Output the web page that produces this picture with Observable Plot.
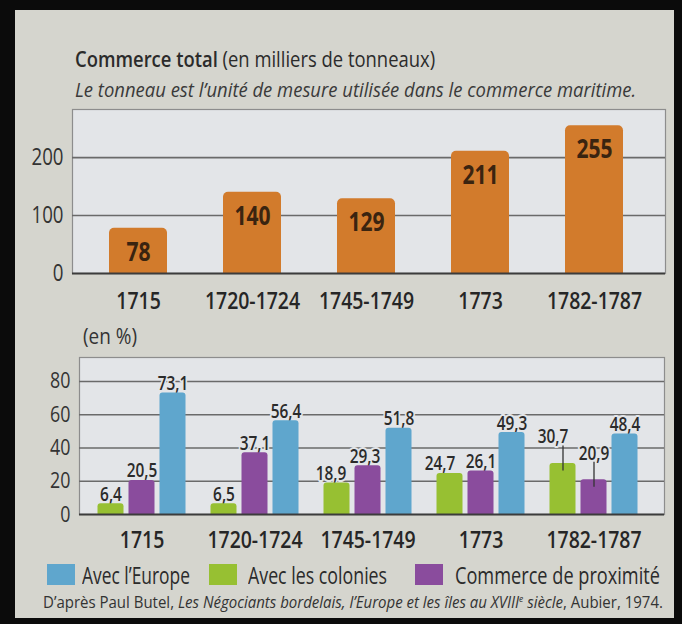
<!DOCTYPE html>
<html><head><meta charset="utf-8">
<script src="https://cdn.jsdelivr.net/npm/d3@7"></script>
<script src="https://cdn.jsdelivr.net/npm/@observablehq/plot@0.6"></script>
<style>
body{margin:0;width:682px;height:624px;background:#0b0b0b;position:relative;overflow:hidden;font-family:'Open Sans','Noto Sans',sans-serif;}
#page{position:absolute;left:15px;top:10px;width:659px;height:608px;background:#d5d5ce;}
.abs{position:absolute;white-space:nowrap;color:#2b2b2b;line-height:1;transform-origin:0 0;}
.chart{position:absolute;left:0;}
.sw{position:absolute;width:28px;height:21px;}
</style></head><body>
<div id="page"></div>
<div class="abs fit" data-w="360" style="left:75px;top:49px;font-size:21px;"><b style="font-weight:600">Commerce total</b> (en milliers de tonneaux)</div>
<div class="abs fit" data-w="561" style="left:75px;top:80px;font-size:20px;font-style:italic;color:#3a3a3a;">Le tonneau est l’unité de mesure utilisée dans le commerce maritime.</div>
<div id="top" class="chart" style="top:100px;"></div>
<div class="abs fit" data-w="54" style="left:83px;top:326px;font-size:21px;color:#333;">(en %)</div>
<div id="bottom" class="chart" style="top:350px;"></div>
<div id="legend"></div>
<div class="abs fit" data-w="620" style="left:43px;top:594px;font-size:16px;color:#333;">D’après Paul Butel, <i>Les Négociants bordelais, l’Europe et les îles au XVIII<sup style="font-size:9px">e</sup> siècle</i>, Aubier, 1974.</div>
<script>
const periods = ["1715", "1720-1724", "1745-1749", "1773", "1782-1787"];
const totals = [78, 140, 129, 211, 255];
const totalTicks = [0, 100, 200];
const colonies = [6.4, 6.5, 18.9, 24.7, 30.7];
const proximite = [20.5, 37.1, 29.3, 26.1, 20.9];
const europe = [73.1, 56.4, 51.8, 49.3, 48.4];
const pctTicks = [0, 20, 40, 60, 80];
const seriesNames = ["Avec l’Europe", "Avec les colonies", "Commerce de proximité"];
const seriesColors = ["#5fa6cd", "#97c032", "#8a4c9d"];

const FONT = "'Open Sans','Noto Sans',sans-serif";
const PANEL = "#e3e5e8";
const K = 0.81; // horizontal condensing of the svg texts
const fmt = v => String(v).replace(".", ",");

function condense(svg) {
  svg.querySelectorAll("text").forEach(t => {
    const w = t.getComputedTextLength();
    if (w > 0) {
      t.setAttribute("textLength", (w * K).toFixed(1));
      t.setAttribute("lengthAdjust", "spacingAndGlyphs");
    }
  });
}

// ---- top chart
const totalData = periods.map((p, i) => ({period: p, value: totals[i]}));
const topChart = Plot.plot({
  width: 682, height: 220,
  marginLeft: 72, marginRight: 17, marginTop: 9, marginBottom: 47,
  style: {background: "transparent", fontFamily: FONT, overflow: "visible"},
  x: {domain: periods, range: [80, 652], padding: 0, axis: null},
  y: {domain: [0, 283], axis: null},
  marks: [
    Plot.frame({fill: PANEL, stroke: "#8d8d8d", strokeWidth: 1.2}),
    Plot.ruleY(totalTicks.filter(d => d > 0), {stroke: "#6a6a6a", strokeWidth: 1.6}),
    Plot.barY(totalData, {x: "period", y: "value", fill: "#d27b2c", insetLeft: 28, insetRight: 28, ry1: 5, rx1y1: 5, rx2y1: 5}),
    Plot.ruleY([0], {stroke: "#3c3c3c", strokeWidth: 2}),
    Plot.text(totalData, {x: "period", y: "value", text: d => fmt(d.value), lineAnchor: "top", dy: 14, fontSize: 26, fontWeight: "bold", fill: "#3a2410"}),
    Plot.axisY(totalTicks, {label: null, tickSize: 0, tickPadding: 9, fontSize: 23, fill: "#333"}),
    Plot.axisX({label: null, tickSize: 0, tickPadding: 18, fontSize: 24, fontWeight: 600, fill: "#262626"})
  ]
});
document.getElementById("top").appendChild(topChart);
condense(topChart);

// ---- bottom chart
const slots = [
  {name: seriesNames[1], values: colonies, color: seriesColors[1], slot: -1},
  {name: seriesNames[2], values: proximite, color: seriesColors[2], slot: 0},
  {name: seriesNames[0], values: europe, color: seriesColors[0], slot: 1}
];
const STEP = 31;
const lifted = new Set(["1782-1787|" + seriesNames[1], "1782-1787|" + seriesNames[2]]);
// small horizontal nudges of some value labels (pixels), as in the original layout
const nudge = {
  ["1745-1749|" + seriesNames[1]]: -6,
  ["1773|" + seriesNames[1]]: -10,
  ["1782-1787|" + seriesNames[1]]: -10,
  ["1745-1749|" + seriesNames[2]]: -3
};
const marks = [
  Plot.frame({fill: PANEL, stroke: "#8d8d8d", strokeWidth: 1.2}),
  Plot.ruleY(pctTicks.filter(d => d > 0), {stroke: "#6a6a6a", strokeWidth: 1.6})
];
const labelStyle = {fontSize: 19, fontWeight: 600, fill: "#2b2b2b", stroke: PANEL, strokeWidth: 4};
for (const s of slots) {
  const data = periods.map((p, i) => ({period: p, value: s.values[i], key: p + "|" + s.name}));
  const groups = d3.groups(data, d => (lifted.has(d.key) ? "up" : "n") + "|" + (nudge[d.key] || 0));
  for (const [g, rows] of groups) {
    const isUp = g.startsWith("up");
    const nd = +g.split("|")[1];
    marks.push(Plot.text(rows, {
      x: "period", y: isUp ? (d => d.value + 12) : "value", text: d => fmt(d.value),
      dx: s.slot * STEP + nd, dy: isUp ? 0 : -3, lineAnchor: "bottom", ...labelStyle
    }));
  }
  const up = data.filter(d => lifted.has(d.key));
  marks.push(Plot.barY(data, {x: "period", y: "value", fill: s.color, dx: s.slot * STEP, insetLeft: 43.5, insetRight: 43.5, ry1: 3, rx1y1: 3, rx2y1: 3}));
  marks.push(Plot.ruleX(up, {x: "period", y1: d => d.value - 4.5, y2: d => d.value + 10.5, dx: s.slot * STEP, stroke: "#333", strokeWidth: 1.3}));
}
marks.push(Plot.ruleY([0], {stroke: "#3c3c3c", strokeWidth: 2}));
marks.push(Plot.axisY(pctTicks, {label: null, tickSize: 0, tickPadding: 9, fontSize: 22, fill: "#333"}));
marks.push(Plot.axisX({label: null, tickSize: 0, tickPadding: 16, fontSize: 24, fontWeight: 600, fill: "#262626"}));

const bottomChart = Plot.plot({
  width: 682, height: 210,
  marginLeft: 79, marginRight: 18, marginTop: 7, marginBottom: 46,
  style: {background: "transparent", fontFamily: FONT, overflow: "visible"},
  x: {domain: periods, range: [84, 651], padding: 0, axis: null},
  y: {domain: [0, 94.4], axis: null},
  marks
});
document.getElementById("bottom").appendChild(bottomChart);
condense(bottomChart);

// ---- legend
const legendItems = [
  {name: seriesNames[0], color: seriesColors[0], sx: 47, tx: 82, w: 108},
  {name: seriesNames[1], color: seriesColors[1], sx: 209, tx: 248, w: 139},
  {name: seriesNames[2], color: seriesColors[2], sx: 415, tx: 455, w: 205}
];
const legend = document.getElementById("legend");
for (const it of legendItems) {
  const sw = document.createElement("div");
  sw.className = "sw";
  sw.style.left = it.sx + "px"; sw.style.top = "564px"; sw.style.background = it.color;
  legend.appendChild(sw);
  const t = document.createElement("div");
  t.className = "abs fit";
  t.dataset.w = it.w;
  t.style.left = it.tx + "px"; t.style.top = "563px"; t.style.fontSize = "24px";
  t.textContent = it.name;
  legend.appendChild(t);
}

// fit html texts to their widths (condensed look)
document.querySelectorAll(".fit").forEach(el => {
  const w = el.getBoundingClientRect().width;
  el.style.transform = `scaleX(${(+el.dataset.w / w).toFixed(3)})`;
});
</script>
</body></html>
